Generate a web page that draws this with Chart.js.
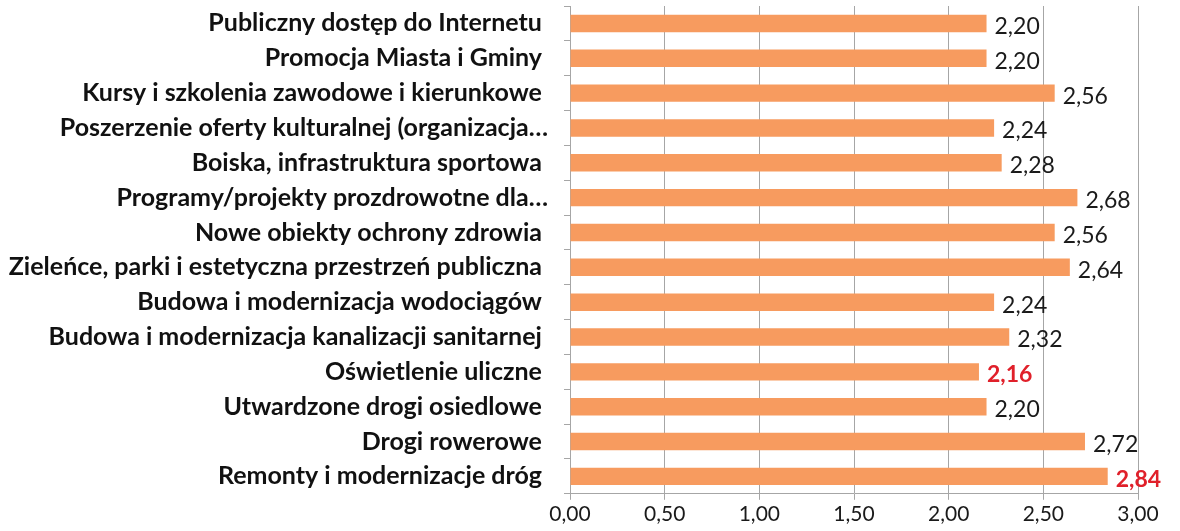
<!DOCTYPE html>
<html>
<head>
<meta charset="utf-8">
<script src="https://cdn.jsdelivr.net/npm/chart.js@4"></script>
<style>
  html, body { margin: 0; padding: 0; background: #fff; }
  #wrap { width: 1180px; height: 531px; position: relative; }
</style>
</head>
<body>
<div id="wrap"><canvas id="bars"></canvas></div>
<script>
// categories, top to bottom
const categories = [
  'Publiczny dostęp do Internetu ',
  'Promocja Miasta i Gminy ',
  'Kursy i szkolenia zawodowe i kierunkowe ',
  'Poszerzenie oferty kulturalnej (organizacja…',
  'Boiska, infrastruktura sportowa ',
  'Programy/projekty prozdrowotne dla…',
  'Nowe obiekty ochrony zdrowia ',
  'Zieleńce, parki i estetyczna przestrzeń publiczna ',
  'Budowa i modernizacja wodociągów ',
  'Budowa i modernizacja kanalizacji sanitarnej ',
  'Oświetlenie uliczne ',
  'Utwardzone drogi osiedlowe ',
  'Drogi rowerowe ',
  'Remonty i modernizacje dróg '
];
const ratings = [2.20, 2.20, 2.56, 2.24, 2.28, 2.68, 2.56, 2.64, 2.24, 2.32, 2.16, 2.20, 2.72, 2.84];
// which values are highlighted in red (min and max)
const highlighted = [false, false, false, false, false, false, false, false, false, false, true, false, false, true];

const fmt = v => v.toFixed(2).replace('.', ',');

// draws the value next to the end of each bar
const valueLabels = {
  id: 'valueLabels',
  afterDatasetsDraw(chart) {
    const ctx = chart.ctx;
    const meta = chart.getDatasetMeta(0);
    ctx.save();
    ctx.textBaseline = 'middle';
    ctx.textAlign = 'left';
    meta.data.forEach(function(bar, i) {
      if (highlighted[i]) {
        ctx.fillStyle = '#e0202a';
        ctx.font = 'bold 23px Lato';
      } else {
        ctx.fillStyle = '#1a1a1a';
        ctx.font = '23px Lato';
      }
      ctx.fillText(fmt(ratings[i]), bar.x + 8, bar.y + 3);
    });
    ctx.restore();
  }
};

const ctx = document.getElementById('bars').getContext('2d');
const chart = new Chart(ctx, {
  type: 'bar',
  data: {
    labels: categories,
    datasets: [{
      data: ratings,
      backgroundColor: '#f79b5f',
      borderWidth: 0,
      barPercentage: 0.5,
      categoryPercentage: 1.0
    }]
  },
  options: {
    indexAxis: 'y',
    responsive: true,
    maintainAspectRatio: false,
    animation: false,
    layout: { padding: { top: 6, right: 42, bottom: 2, left: 0 } },
    scales: {
      x: {
        min: 0,
        max: 3,
        ticks: {
          stepSize: 0.5,
          color: '#1a1a1a',
          font: { family: 'Lato', size: 21 },
          padding: 2,
          callback: function(val) { return fmt(val); }
        },
        grid: { color: '#a6a6a6', tickLength: 6 },
        border: { color: '#a6a6a6' }
      },
      y: {
        afterFit: function(scale) {
          scale.width = 570;
          // labels sit inside their bands, no extra room needed above/below
          scale.paddingTop = 0;
          scale.paddingBottom = 0;
        },
        ticks: {
          color: '#111',
          font: { family: 'Lato', size: 25, weight: 'bold' },
          padding: 16,
          autoSkip: false
        },
        grid: { drawOnChartArea: false, color: '#a6a6a6', tickLength: 6 },
        border: { color: '#a6a6a6' }
      }
    },
    plugins: {
      legend: { display: false },
      tooltip: { enabled: false }
    }
  },
  plugins: [valueLabels]
});
</script>
</body>
</html>
